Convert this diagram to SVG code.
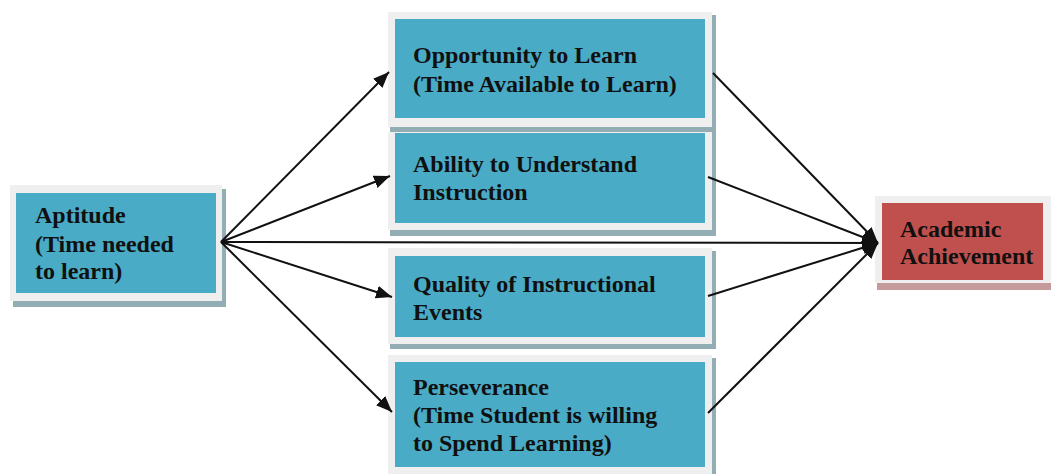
<svg xmlns="http://www.w3.org/2000/svg" width="1051" height="474" viewBox="0 0 1051 474">
<defs>
<style>
.sh{fill:#93adb5}
.shr{fill:#c49a9b}
.fr{fill:#efefef}
.bl{fill:#4aabc6}
.rd{fill:#c0504e}
.t{font-family:"Liberation Serif","Times New Roman",serif;font-weight:bold;font-size:24px;fill:#101010}
.c{stroke:#111;stroke-width:2;fill:none;marker-end:url(#ah)}
</style>
<marker id="ah" markerUnits="userSpaceOnUse" markerWidth="18" markerHeight="14" refX="16" refY="7" orient="auto">
<path d="M0,0.5 L16,7 L0,13.5 Z" fill="#111"/>
</marker>
</defs>
<rect width="1051" height="474" fill="#fff"/>
<g id="aptitude">
<rect class="sh" x="13" y="189" width="213" height="118"/>
<rect class="fr" x="10" y="185" width="212" height="116"/>
<rect class="bl" x="16" y="193" width="200" height="100"/>
<text class="t" x="35" y="223">Aptitude</text>
<text class="t" x="35" y="252">(Time needed</text>
<text class="t" x="35" y="279">to learn)</text>
</g>
<g id="opportunity">
<rect class="sh" x="390" y="15" width="326" height="117"/>
<rect class="fr" x="388" y="12" width="324" height="115"/>
<rect class="bl" x="395" y="19" width="310" height="99"/>
<text class="t" x="413" y="63">Opportunity to Learn</text>
<text class="t" x="413" y="92">(Time Available to Learn)</text>
</g>
<g id="ability">
<rect class="sh" x="390" y="132" width="326" height="104"/>
<rect class="fr" x="388" y="132" width="324" height="98"/>
<rect class="bl" x="395" y="133" width="310" height="90"/>
<text class="t" x="413" y="172">Ability to Understand</text>
<text class="t" x="413" y="200">Instruction</text>
</g>
<g id="quality">
<rect class="sh" x="390" y="251" width="326" height="98"/>
<rect class="fr" x="388" y="248" width="324" height="96"/>
<rect class="bl" x="395" y="256" width="310" height="81"/>
<text class="t" x="413" y="292">Quality of Instructional</text>
<text class="t" x="413" y="320">Events</text>
</g>
<g id="perseverance">
<rect class="sh" x="390" y="358" width="326" height="116"/>
<rect class="fr" x="388" y="355" width="324" height="119"/>
<rect class="bl" x="395" y="362" width="310" height="105"/>
<text class="t" x="413" y="395">Perseverance</text>
<text class="t" x="413" y="423">(Time Student is willing</text>
<text class="t" x="413" y="451">to Spend Learning)</text>
</g>
<g id="academic">
<rect class="shr" x="877" y="199" width="174" height="91"/>
<rect class="fr" x="875" y="196" width="176" height="87"/>
<rect class="rd" x="882" y="203" width="161" height="77"/>
<text class="t" x="900" y="237">Academic</text>
<text class="t" x="900" y="264">Achievement</text>
</g>
<g id="connectors">
<line class="c" x1="221" y1="242" x2="389" y2="72"/>
<line class="c" x1="221" y1="242" x2="390" y2="176"/>
<line class="c" x1="221" y1="242" x2="878" y2="243"/>
<line class="c" x1="221" y1="242" x2="392" y2="297"/>
<line class="c" x1="221" y1="242" x2="392" y2="412"/>
<line class="c" x1="713" y1="73" x2="878" y2="243"/>
<line class="c" x1="708" y1="177" x2="878" y2="243"/>
<line class="c" x1="708" y1="296" x2="878" y2="243"/>
<line class="c" x1="708" y1="413" x2="878" y2="243"/>
</g>
</svg>
